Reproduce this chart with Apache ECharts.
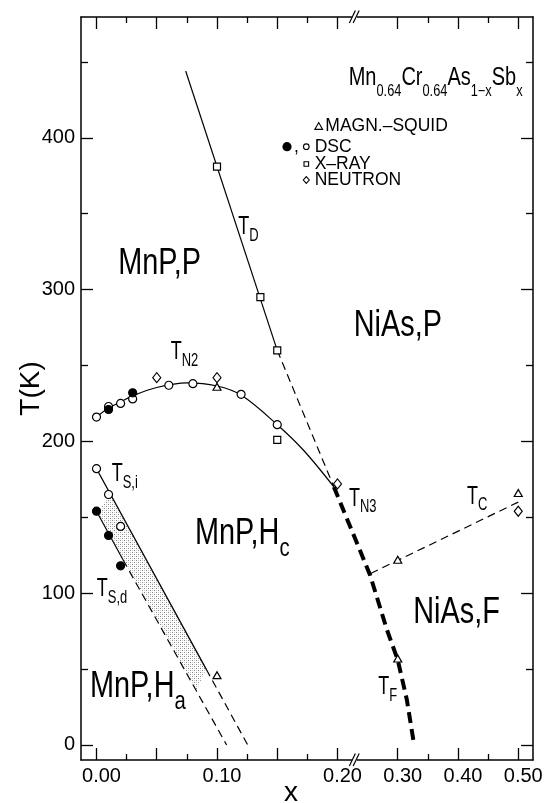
<!DOCTYPE html>
<html><head><meta charset="utf-8">
<script src="https://cdn.jsdelivr.net/npm/echarts@6/dist/echarts.min.js"></script>
<style>html,body{margin:0;padding:0;background:#fff}#c{width:544px;height:803px}</style>
</head><body><div id="c"></div>
<script>
// ---------------- data (x = Sb content, T in K) ----------------
const dscOpen   = [[0.00,216],[0.01,223],[0.02,225],[0.03,228],[0.06,237],[0.08,238],[0.12,231],[0.15,211],[0.00,182],[0.01,165],[0.02,144]];
const dscFilled = [[0.01,221],[0.03,232],[0.00,154],[0.01,138],[0.02,118]];
const xray      = [[0.10,381],[0.136,295],[0.15,260],[0.15,201]];
const neutron   = [[0.05,242],[0.10,242],[0.20,172],[0.50,154]];
const squid     = [[0.10,236],[0.10,46],[0.30,122],[0.30,57],[0.50,166]];
const tdSolid   = [[0.074,444],[0.15,260]];
const tdDashed  = [[0.15,260],[0.197,170]];
const tn2Curve  = [[0.00,216],[0.01,222],[0.02,226],[0.03,230],[0.05,235.5],[0.075,238.5],[0.10,236.5],[0.12,230.5],[0.15,211],[0.172,194],[0.197,170]];
const tn3tfCurve= [[0.197,170],[0.254,112],[0.282,76],[0.300,56],[0.315,30],[0.326,3]];
const tcLine    = [[0.255,113],[0.50,160]];
const tsiSolid  = [[0.00,182],[0.091,50]];
const tsiDashed = [[0.091,50],[0.1255,0]];
const tsdSolid  = [[0.00,154],[0.022,122]];
const tsdDashed = [[0.022,122],[0.108,0]];
const tsBand    = [[0.001,153],[0.011,165],[0.091,50],[0.083,36]];
const xTickLabels = [0.00,0.10,0.20,0.30,0.40,0.50];
const xMajorTicks = [0,0.05,0.10,0.15,0.20,0.30,0.40,0.50];
const xMinorTicks = [0.025,0.075,0.125,0.175,0.35,0.45];
const yTickLabels = [0,100,200,300,400];
const yMinorTicks = [50,150,250,350,450];

// ---------------- broken x axis (0.2..0.5 compressed 2:1) ----------------
const BREAK_AT = 0.2, RIGHT_SCALE = 0.5;
function bx(x){ return x <= BREAK_AT ? x : BREAK_AT + (x - BREAK_AT) * RIGHT_SCALE; }
function unbx(u){ return u <= BREAK_AT + 1e-9 ? u : BREAK_AT + (u - BREAK_AT) / RIGHT_SCALE; }
const P = arr => arr.map(([x, t]) => [bx(x), t]);

const FONT = '"Liberation Sans", Arial, Helvetica, sans-serif';
const BLACK = '#000';
const X_MIN = -0.01286, X_MAX = 0.36224, Y_MIN = -9.9, Y_MAX = 479.6;

function xAxisCfg(position, ticks, len, withLine, withLabels, extra){
  return Object.assign({
    type:'value', gridIndex:0, position, min:X_MIN, max:X_MAX,
    axisLine:{show:withLine, onZero:false, lineStyle:{color:BLACK, width:1.5}},
    axisTick:{show:true, inside:true, length:len, customValues:ticks.map(bx), lineStyle:{color:BLACK, width:1.3}},
    axisLabel: withLabels ? {show:true, customValues:xTickLabels.map(bx), formatter:v => unbx(v).toFixed(2),
      color:BLACK, fontSize:20, fontFamily:FONT, margin:6, padding:[0,0,0,10]} : {show:false},
    splitLine:{show:false}
  }, extra || {});
}
function yAxisCfg(position, ticks, len, withLine, withLabels, extra){
  return Object.assign({
    type:'value', gridIndex:0, position, min:Y_MIN, max:Y_MAX,
    axisLine:{show:withLine, onZero:false, lineStyle:{color:BLACK, width:1.5}},
    axisTick:{show:true, inside:true, length:len, customValues:ticks, lineStyle:{color:BLACK, width:1.3}},
    axisLabel: withLabels ? {show:true, customValues:yTickLabels, color:BLACK, fontSize:20, fontFamily:FONT, margin:6} : {show:false},
    splitLine:{show:false}
  }, extra || {});
}

// stipple pattern for the coexistence band
const pc = document.createElement('canvas'); pc.width = 4; pc.height = 4;
(function(){ const g = pc.getContext('2d'); g.fillStyle = '#8a8a8a'; g.fillRect(0,0,1,1); g.fillRect(2,2,1,1);
  g.fillStyle = '#d0d0d0'; g.fillRect(2,0,1,1); g.fillRect(0,2,1,1); })();

function lineSeries(data, width, type, smooth){
  return {type:'line', xAxisIndex:0, yAxisIndex:0, data:P(data), symbol:'none', showSymbol:false, smooth:smooth || false,
    lineStyle:{color:BLACK, width, type, cap:'butt'}, silent:true, z:3, animation:false, clip:false};
}
function scatterSeries(data, symbol, size, fill){
  return {type:'scatter', xAxisIndex:0, yAxisIndex:0, data:P(data), symbol, symbolSize:size,
    itemStyle:{color:fill, borderColor:BLACK, borderWidth:1.2, opacity:1}, emphasis:{disabled:true},
    silent:true, z:5, animation:false};
}

const chart = echarts.init(document.getElementById('c'), null, {renderer:'canvas'});
chart.setOption({
  animation:false,
  backgroundColor:'#fff',
  grid:{left:81, top:17, width:452, height:743, containLabel:false, outerBoundsMode:'none'},
  xAxis:[
    xAxisCfg('bottom', xMajorTicks, 12, true, true, {name:'x', nameLocation:'middle', nameGap:19, nameMoveOverlap:false,
      nameTextStyle:{fontSize:28, color:BLACK, fontFamily:FONT, padding:[0,32,0,0]}}),
    xAxisCfg('bottom', xMinorTicks, 6, false, false),
    xAxisCfg('top', xMajorTicks, 12, true, false),
    xAxisCfg('top', xMinorTicks, 6, false, false)
  ],
  yAxis:[
    yAxisCfg('left', yTickLabels, 12, true, true, {name:'T(K)', nameLocation:'middle', nameGap:36, nameRotate:90, nameMoveOverlap:false,
      nameTextStyle:{fontSize:28, color:BLACK, fontFamily:FONT}}),
    yAxisCfg('left', yMinorTicks, 7, false, false),
    yAxisCfg('right', yTickLabels, 12, true, false),
    yAxisCfg('right', yMinorTicks, 7, false, false)
  ],
  series:[
    {type:'custom', xAxisIndex:0, yAxisIndex:0, data:[[0,0]], silent:true, z:1, animation:false,
      renderItem:(params, api) => ({type:'polygon',
        shape:{points: tsBand.map(p => api.coord([bx(p[0]), p[1]]))},
        style:{fill:{image:pc, repeat:'repeat'}, stroke:null}})},
    lineSeries(tdSolid, 1.2, 'solid'),
    lineSeries(tdDashed, 1.2, [8,5]),
    lineSeries(tn2Curve, 1.2, 'solid', 0.35),
    lineSeries(tn3tfCurve, 4, [11,6]),
    lineSeries(tcLine, 1.2, [8,5]),
    lineSeries(tsiSolid, 1.3, 'solid'),
    lineSeries(tsiDashed, 1.2, [8,5]),
    lineSeries(tsdSolid, 1.2, 'solid'),
    lineSeries(tsdDashed, 1.2, [8,5]),
    scatterSeries(xray, 'rect', 7, '#fff'),
    scatterSeries(neutron, 'diamond', [8,10], '#fff'),
    scatterSeries(squid, 'triangle', [8,7], '#fff'),
    scatterSeries(dscOpen, 'circle', 8, '#fff'),
    scatterSeries(dscFilled, 'circle', 8, BLACK)
  ]
});

// ---------------- annotations ----------------
const mctx = document.createElement('canvas').getContext('2d');
function textW(t, size){ mctx.font = size + 'px ' + FONT; return mctx.measureText(t).width; }
function compound(parts, px, py, sx){
  let cx = 0; const children = [];
  parts.forEach(p => {
    children.push({type:'text', x:cx, y:p.dy || 0, silent:true,
      style:{text:p.t, font:p.size + 'px ' + FONT, fill:BLACK, align:'left', verticalAlign:'middle', textAlign:'left', textVerticalAlign:'middle'}});
    cx += textW(p.t, p.size);
  });
  return {type:'group', x:px, y:py, scaleX:sx, scaleY:1, silent:true, children};
}
const toPx = (x, t) => chart.convertToPixel({xAxisIndex:0, yAxisIndex:0}, [bx(x), t]);

const REG = 37, REG_SUB = 26, REG_SX = 0.78;
const regionLabels = [
  {parts:[{t:'MnP,P', size:REG}], x:0.018, t:317.3},
  {parts:[{t:'NiAs,P', size:REG}], x:0.2269, t:275.9},
  {parts:[{t:'MnP,H', size:REG}, {t:'c', size:REG_SUB, dy:15}], x:0.0817, t:139},
  {parts:[{t:'NiAs,F', size:REG}], x:0.3257, t:87.3},
  {parts:[{t:'MnP,H', size:REG}, {t:'a', size:REG_SUB, dy:15}], x:-0.0054, t:38.4}
];
const tLabels = [
  {sub:'D',   x:0.1177, t:341.0},
  {sub:'N2',  x:0.0616, t:258.6},
  {sub:'N3',  x:0.2191, t:162.2},
  {sub:'C',   x:0.4148, t:163.6},
  {sub:'F',   x:0.2677, t:37.9},
  {sub:'S,i', x:0.0126, t:178.4},
  {sub:'S,d', x:0.0002, t:102.6}
];
const graphics = [];
regionLabels.forEach(l => { const p = toPx(l.x, l.t); graphics.push(compound(l.parts, p[0], p[1], REG_SX)); });
tLabels.forEach(l => { const p = toPx(l.x, l.t);
  graphics.push(compound([{t:'T', size:25}, {t:l.sub, size:18, dy:8.5}], p[0], p[1], 0.72)); });

// title
const TS = 25, TSUB = 16, TDY = 13;
graphics.push(compound([
  {t:'Mn', size:TS}, {t:'0.64', size:TSUB, dy:TDY}, {t:'Cr', size:TS}, {t:'0.64', size:TSUB, dy:TDY},
  {t:'As', size:TS}, {t:'1\u2212x', size:TSUB, dy:TDY}, {t:'Sb', size:TS}, {t:'x', size:TSUB, dy:TDY}
], 348.7, 78.5, 0.8));

// legend
const LF = 17.5;
const lt = (t, x, y) => ({type:'text', x, y, silent:true,
  style:{text:t, font:LF + 'px ' + FONT, fill:BLACK, align:'left', verticalAlign:'middle', textAlign:'left', textVerticalAlign:'middle'}});
const sym = {stroke:BLACK, lineWidth:1.1, fill:'#fff'};
graphics.push(
  {type:'polygon', silent:true, shape:{points:[[318.7,122.6],[322.6,129.4],[314.8,129.4]]}, style:sym},
  lt('MAGN.\u2013SQUID', 325.3, 126.4),
  {type:'circle', silent:true, shape:{cx:287, cy:146.7, r:4.6}, style:{fill:BLACK}},
  lt(',', 294, 147),
  {type:'circle', silent:true, shape:{cx:306.3, cy:146.7, r:2.8}, style:sym},
  lt('DSC', 314.7, 147.5),
  {type:'rect', silent:true, shape:{x:304, y:161.7, width:4.6, height:4.6}, style:sym},
  lt('X\u2013RAY', 314.7, 163.9),
  {type:'polygon', silent:true, shape:{points:[[306.3,176.6],[309.3,180],[306.3,183.4],[303.3,180]]}, style:sym},
  lt('NEUTRON', 314.7, 180.4)
);

// axis break marks
const BREAK_MARK_X = 0.228;
[Y_MAX, Y_MIN].forEach(yv => {
  const p = toPx(BREAK_MARK_X, yv);
  graphics.push(
    {type:'rect', silent:true, shape:{x:p[0] - 2.5, y:p[1] - 1.5, width:5, height:3}, style:{fill:'#fff'}, z:100},
    {type:'line', silent:true, shape:{x1:p[0] - 5, y1:p[1] + 6, x2:p[0] + 1, y2:p[1] - 6.5}, style:{stroke:BLACK, lineWidth:1.2}, z:101},
    {type:'line', silent:true, shape:{x1:p[0] - 1.2, y1:p[1] + 6, x2:p[0] + 4.8, y2:p[1] - 6.5}, style:{stroke:BLACK, lineWidth:1.2}, z:101}
  );
});

chart.setOption({graphic:{elements:graphics}});
</script>
</body></html>
